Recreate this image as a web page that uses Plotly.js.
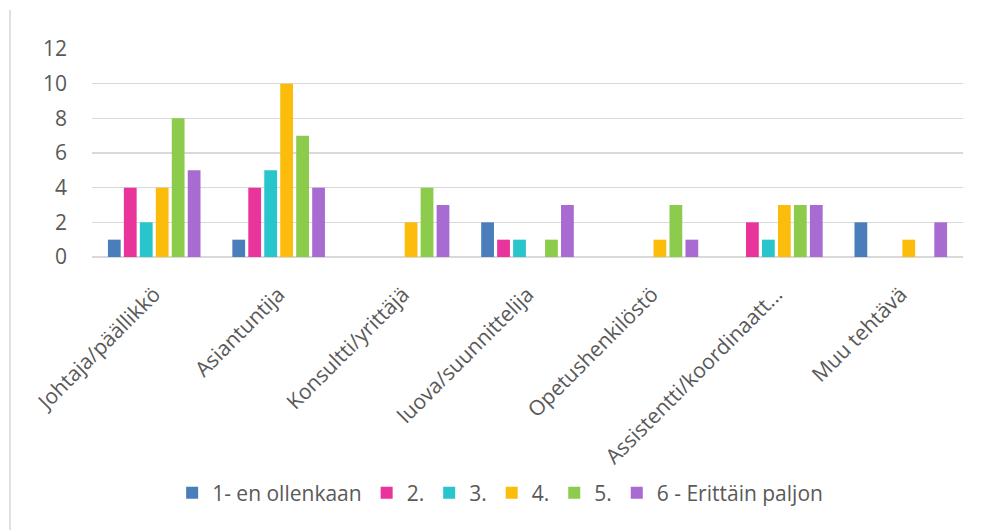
<!DOCTYPE html>
<html>
<head>
<meta charset="utf-8">
<script src="https://cdn.plot.ly/plotly-3.0.1.min.js"></script>
<style>
html,body{margin:0;padding:0;background:#fff;}
#wrap{position:relative;width:981px;height:530px;}
#edge{position:absolute;left:9px;top:10px;width:2px;height:520px;background:#e0e0e0;}
#chart{position:absolute;left:0;top:0;width:981px;height:530px;}
</style>
</head>
<body>
<div id="wrap"><div id="chart"></div><div id="edge"></div></div>
<script>
const categories = ["Johtaja/päällikkö","Asiantuntija","Konsultti/yrittäjä","luova/suunnittelija","Opetushenkilöstö","Assistentti/koordinaatt...","Muu tehtävä"];
const seriesNames = ["1- en ollenkaan","2.","3.","4.","5.","6 - Erittäin paljon"];
const s1 = [1,1,0,2,0,0,2];
const s2 = [4,4,0,1,0,2,0];
const s3 = [2,5,0,1,0,1,0];
const s4 = [4,10,2,0,1,3,1];
const s5 = [8,7,4,1,3,3,0];
const s6 = [5,4,3,3,1,3,2];
const yTicks = [0,2,4,6,8,10,12];
const colors = ["#4a7ebb","#e8349b","#29c5cc","#fcbc0b","#8ccb4c","#a86bd1"];

const allSeries = [s1,s2,s3,s4,s5,s6];
const traces = allSeries.map((v,i)=>({
  type:'bar', x:categories, y:v, name:seriesNames[i],
  marker:{color:colors[i]}, hoverinfo:'none'
}));

const layout = {
  width:981, height:530,
  margin:{l:92,r:18,t:49,b:273},
  paper_bgcolor:'#fff', plot_bgcolor:'#fff',
  font:{family:'Open Sans, sans-serif', color:'#595959', size:20},
  barmode:'group', bargap:0.23, bargroupgap:0.2,
  xaxis:{type:'category', tickangle:-45, showgrid:false, zeroline:false, showline:false,
         ticks:'', ticklabelstandoff:20, tickfont:{size:21, color:'#595959'}},
  yaxis:{range:[0,12], tickvals:yTicks, ticktext:yTicks.map(String), showgrid:true,
         gridcolor:'#d9d9d9', gridwidth:1.5, zeroline:true, zerolinecolor:'#d9d9d9', zerolinewidth:1.5,
         showline:false, ticks:'', ticklabelstandoff:24, tickfont:{size:21, color:'#595959'}},
  legend:{orientation:'h', x:0.092, xanchor:'left', y:-1.135, yanchor:'middle',
          font:{size:21, color:'#595959'}, itemwidth:30, traceorder:'normal'},
  showlegend:true
};
Plotly.newPlot('chart', traces, layout, {displayModeBar:false, staticPlot:true});
</script>
</body>
</html>
